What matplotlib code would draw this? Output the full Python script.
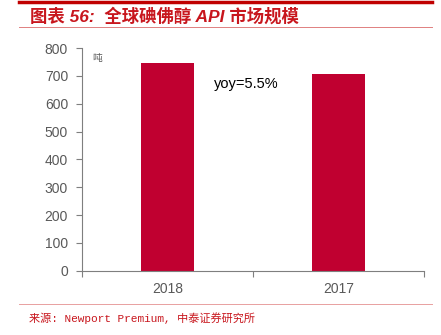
import matplotlib.pyplot as plt
from matplotlib.lines import Line2D

plt.rcParams['font.family'] = ['Liberation Sans', 'Noto Sans CJK SC', 'DejaVu Sans']

# ── Data ──────────────────────────────────────────────────────────────────────
years  = ["2018", "2017"]
values = [745, 706]
yticks = [0, 100, 200, 300, 400, 500, 600, 700, 800]

BAR   = "#C00030"
RED   = "#C8161D"
GRAY  = "#7F7F7F"
TEXT  = "#595959"

fig = plt.figure(figsize=(4.41, 3.35), dpi=100, facecolor="white")
ax = fig.add_axes([82/441, 1 - 270.7/335, 342/441, 222.7/335])

x = range(len(years))
ax.bar(x, values, width=0.31, color=BAR)
ax.set_xlim(-0.5, 1.5)
ax.set_ylim(0, 800)
ax.set_yticks(yticks)
ax.set_xticks([-0.5, 0.5, 1.5], minor=False)
ax.set_xticklabels([])
ax.set_xticks(list(x), minor=True)
ax.set_xticklabels(years, minor=True)
ax.tick_params(axis="x", which="minor", length=0, pad=8, labelsize=10, labelcolor=TEXT)
ax.tick_params(axis="x", which="major", length=4, color=GRAY)
ax.tick_params(axis="y", length=4, color=GRAY, labelsize=10, labelcolor=TEXT, pad=6)
ax.spines[["top", "right"]].set_visible(False)
ax.spines[["left", "bottom"]].set_color(GRAY)

ax.text(0.46, 670, "yoy=5.5%", ha="center", va="center", fontsize=10.5, color="black")
ax.text(0.045, 765, "吨", fontsize=7, color=TEXT, family=['Noto Sans CJK SC'],
        transform=ax.get_yaxis_transform(), va="center", ha="center")

# header / footer rules
fig.add_artist(Line2D([19/441, 432/441], [1 - 1.5/335] * 2, color="#C00000", lw=2.5))
fig.add_artist(Line2D([19/441, 432/441], [1 - 27/335] * 2, color="#E08080", lw=0.7))
fig.add_artist(Line2D([19/441, 432/441], [1 - 304/335] * 2, color="#E8A0A0", lw=0.7))

fig.text(30/441, 1 - 16/335, "图表 56:  全球碘佛醇 API 市场规模", fontsize=12.5, color=RED,
         fontweight="bold", style="italic", va="center",
         family=['Liberation Sans', 'Noto Sans CJK SC'])
fig.text(29/441, 1 - 318/335, "来源: Newport Premium, 中泰证券研究所", fontsize=8, color=RED,
         va="center", family=['Liberation Mono', 'Noto Sans CJK SC'])

plt.savefig("out.png", dpi=100)
